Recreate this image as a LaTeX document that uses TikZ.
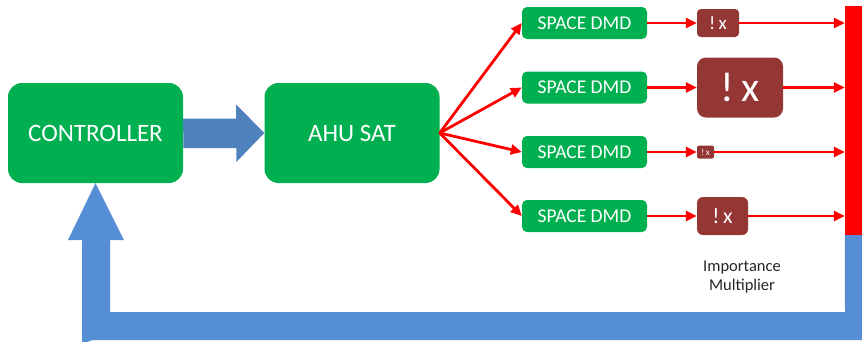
\documentclass[tikz,border=0pt]{standalone}
\usepackage{fontspec}
\setmainfont{Carlito}
\usetikzlibrary{arrows.meta}
\definecolor{gbox}{HTML}{00B050}
\definecolor{rbox}{HTML}{943634}
\definecolor{bluearr}{HTML}{4F81BD}
\definecolor{bluefb}{HTML}{558ED5}
\definecolor{redc}{HTML}{FF0000}
\tikzset{
  bigbox/.style={fill=gbox, rounded corners=14pt, text=white, font=\fontsize{25}{28}\selectfont, minimum width=175pt, minimum height=100pt, inner sep=0pt},
  dmd/.style={fill=gbox, rounded corners=5pt, text=white, font=\fontsize{19.5}{22}\selectfont, minimum width=125pt, minimum height=32pt, inner sep=0pt},
  imp/.style={fill=rbox, text=white, inner sep=0pt},
  redarr/.style={draw=redc, line width=2.8pt, -{Triangle[length=11pt,width=10pt]}},
}
\begin{document}
\begin{tikzpicture}[x=1pt,y=-1pt]
\useasboundingbox (0,0) rectangle (862,341);
% main boxes
\node[bigbox] (ctrl) at (95.5,133) {CONTROLLER};
\node[bigbox] (ahu) at (352,133) {AHU SAT};
% blue arrow controller -> AHU
\fill[bluearr] (ctrl.east) ++(0,-14.5) -- ++(53,0) -- ++(0,-14) -- (ahu.west) -- ++(-28,29) -- ++(0,-14) -- ++(-53,0) -- cycle;
% space dmd boxes
\node[dmd] (d1) at (584.5,23) {SPACE DMD};
\node[dmd] (d2) at (584.5,87.5) {SPACE DMD};
\node[dmd] (d3) at (584.5,152) {SPACE DMD};
\node[dmd] (d4) at (584.5,216) {SPACE DMD};
% importance boxes
\node[imp, rounded corners=4pt, minimum width=42pt, minimum height=28pt, font=\fontsize{19}{20}\selectfont] (r1) at (718,23) {!\,x};
\node[imp, rounded corners=9pt, minimum width=86pt, minimum height=60pt, font=\fontsize{42}{44}\selectfont] (r2) at (740,87.5) {!\,x};
\node[imp, rounded corners=2pt, minimum width=17pt, minimum height=13pt, font=\fontsize{9}{10}\selectfont] (r3) at (705.5,152) {!\,x};
\node[imp, rounded corners=6pt, minimum width=51pt, minimum height=38pt, font=\fontsize{22}{24}\selectfont] (r4) at (722.5,216) {!\,x};
% red bar
\node[fill=redc, minimum width=17pt, minimum height=229pt, inner sep=0pt] (bar) at (853.5,120.5) {};
% label
\node[align=center, text=black!85, font=\fontsize{16.5}{19}\selectfont] (lbl) at (742,277.5) {Importance\\Multiplier};
% fan arrows
\foreach \d in {d1,d2,d3,d4} \draw[redarr] (ahu.east) -- (\d.west);
% dmd -> importance
\draw[redarr] (d1.east) -- (r1.west);
\draw[redarr] (d2.east) -- (r2.west);
\draw[redarr] (d3.east) -- (r3.west);
\draw[redarr] (d4.east) -- (r4.west);
% importance -> bar
\draw[redarr] (r1.east) -- (r1.east -| bar.west);
\draw[redarr] (r2.east) -- (r2.east -| bar.west);
\draw[redarr] (r3.east) -- (r3.east -| bar.west);
\draw[redarr] (r4.east) -- (r4.east -| bar.west);
% feedback arrow
\coordinate (fbtip) at (ctrl.south);
\fill[bluefb] (bar.south west) -- (bar.south east) -- (862,340) -- (94,340)
  arc[start angle=90, end angle=180, radius=12pt] -- (82,240) -- (68,240) -- (fbtip) -- (124,240) -- (110,240) -- (110,312) -- (845,312) -- cycle;
\end{tikzpicture}
\end{document}
